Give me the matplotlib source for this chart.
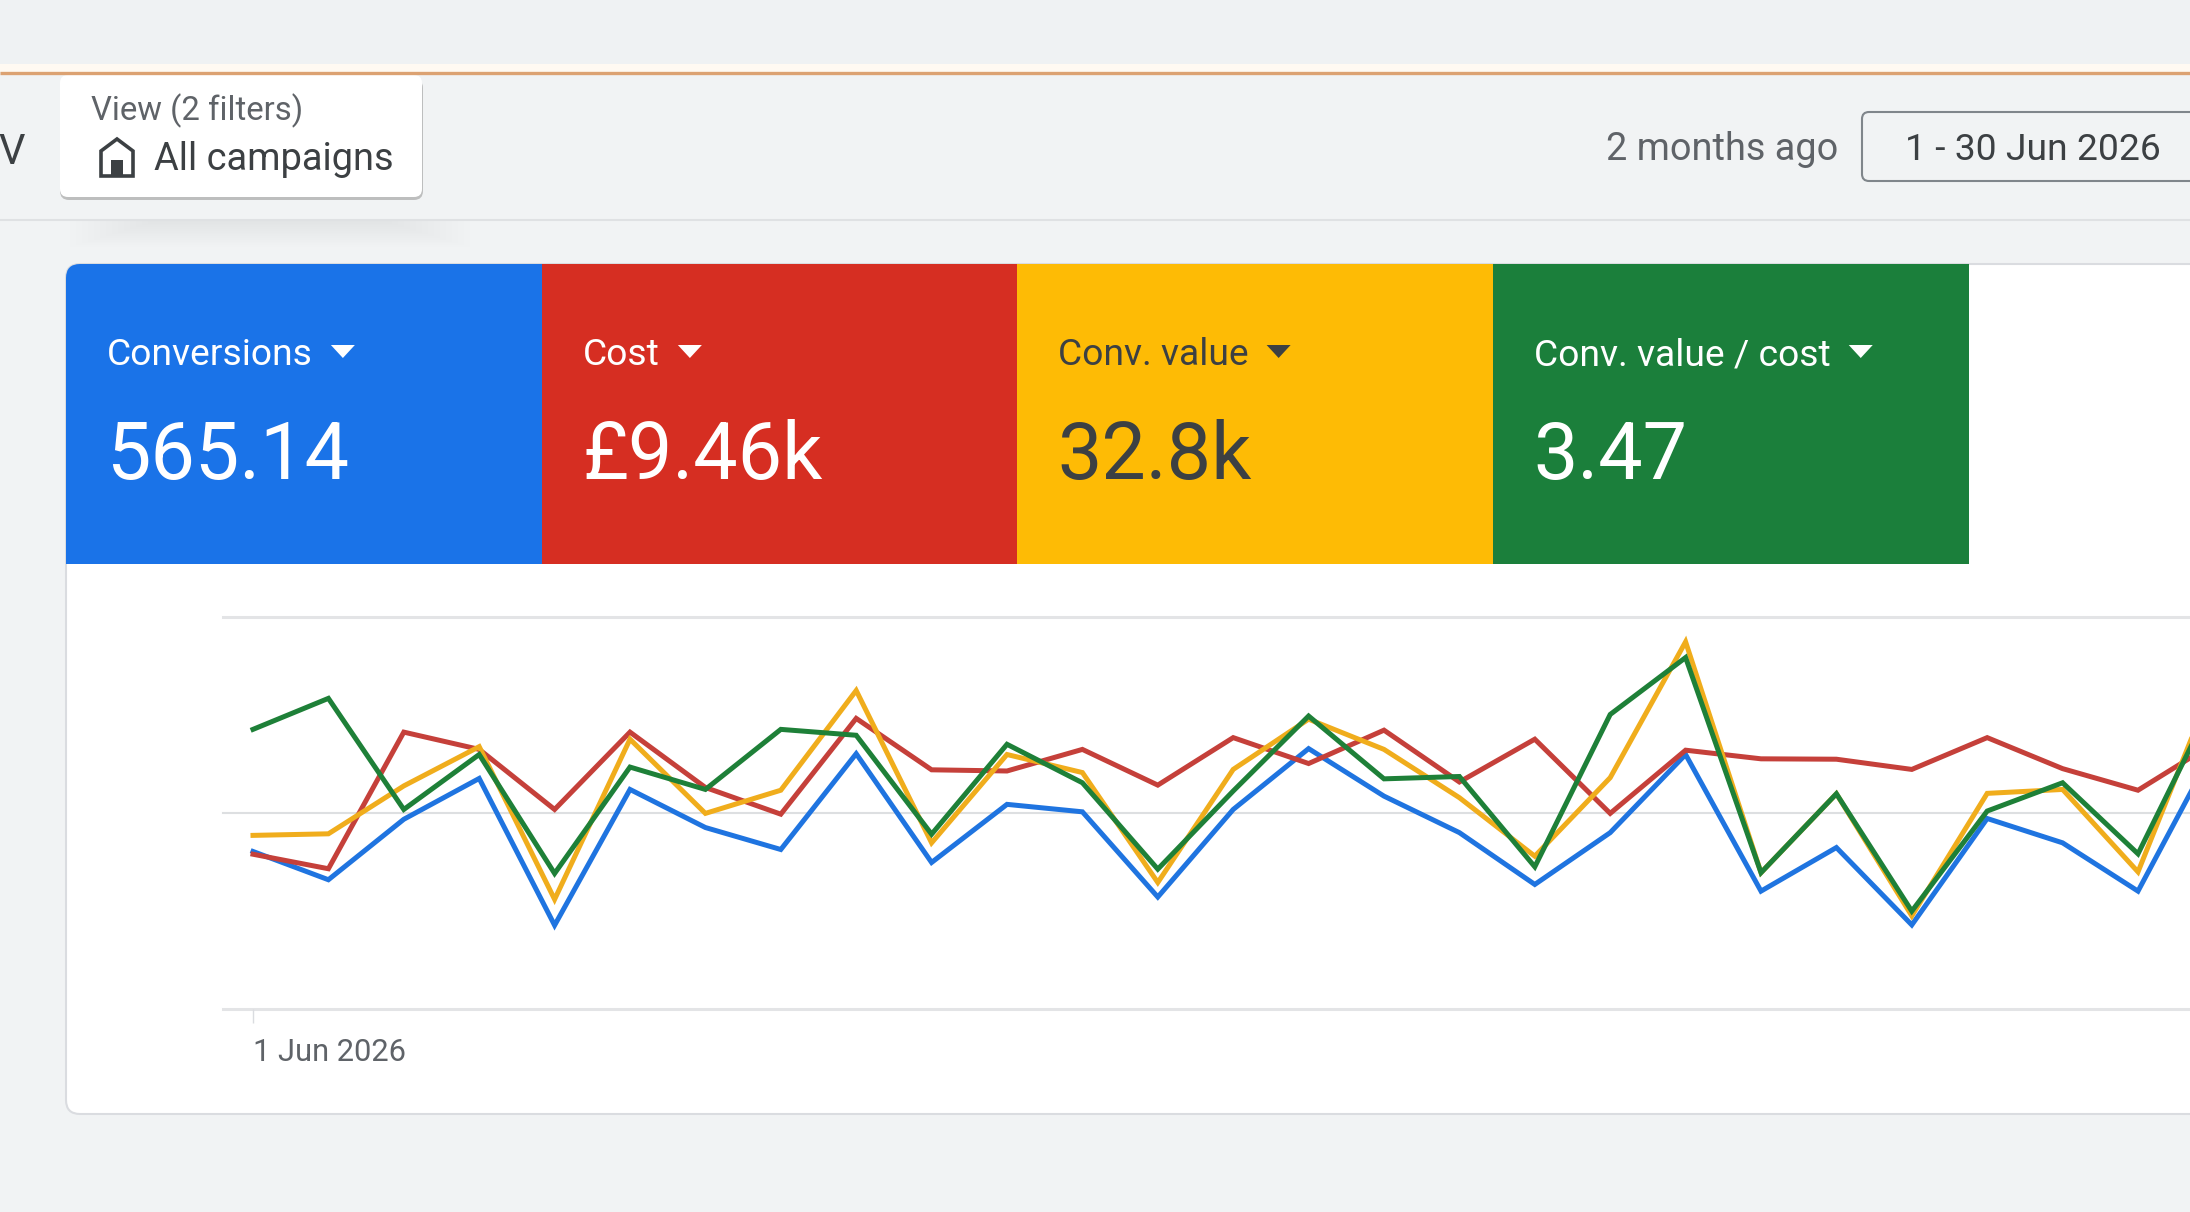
import matplotlib
matplotlib.use("Agg")
import matplotlib.pyplot as plt
from matplotlib.patches import FancyBboxPatch, Rectangle, Polygon

plt.rcParams['font.family'] = ['Roboto', 'DejaVu Sans']

W, H = 2190, 1212

days = list(range(27))
conversions = [40.2, 33.0, 48.4, 58.8, 21.4, 56.0, 46.3, 40.7, 65.1, 37.4, 52.2, 50.3, 28.6, 50.9,
               66.4, 54.3, 45.0, 31.8, 45.0, 64.9, 30.1, 41.2, 21.5, 48.6, 42.4, 30.1, 66.1]
cost = [39.5, 35.8, 70.6, 66.2, 50.9, 70.6, 56.5, 49.7, 74.1, 61.0, 60.7, 66.2, 57.1, 69.2,
        62.6, 71.1, 57.9, 68.8, 49.9, 66.0, 63.8, 63.7, 61.1, 69.2, 61.3, 55.8, 67.7]
conv_value = [44.3, 44.7, 56.9, 66.9, 28.0, 68.8, 49.9, 55.8, 81.2, 42.4, 64.9, 60.3, 32.3, 61.1,
              73.9, 66.2, 53.9, 39.0, 59.0, 93.6, 34.8, 54.9, 23.8, 55.0, 56.0, 35.0, 82.9]
value_per_cost = [71.3, 79.2, 50.9, 64.9, 34.6, 61.7, 56.0, 71.3, 69.8, 44.6, 67.5, 57.7, 35.7, 55.6,
                  74.7, 58.7, 59.3, 36.3, 75.1, 89.6, 34.8, 54.9, 25.0, 50.5, 57.7, 39.6, 78.5]

tile_labels = ["Conversions", "Cost", "Conv. value", "Conv. value / cost"]
tile_values = ["565.14", "£9.46k", "32.8k", "3.47"]
tile_colors = ["#1a73e8", "#d62e22", "#febb05", "#1b7f3b"]
tile_text = ["white", "white", "#3c4043", "white"]
line_colors = ["#1f74e0", "#c5403a", "#f0ad1c", "#1e8038"]
line_series = [conversions, cost, conv_value, value_per_cost]

BG = "#f1f3f4"
DARK = "#3c4043"
GREY = "#5f6368"


def rounded(ax, x0, y0, x1, y1, r, **kw):
    box = FancyBboxPatch((x0 + r, y0 + r), x1 - x0 - 2 * r, y1 - y0 - 2 * r,
                         boxstyle=f"round,pad={r},rounding_size={r}", **kw)
    ax.add_patch(box)
    return box


def draw_page(ax):
    ax.add_patch(Rectangle((0, 0), W, 64, fc="#eff2f3", ec="none"))
    ax.add_patch(Rectangle((0, 64), W, 8, fc="#fffaf2", ec="none"))
    ax.plot([0, W], [72.5, 72.5], color="#dca272", lw=2.4, solid_capstyle="butt")
    ax.plot([0, W], [220, 220], color="#dfe1e3", lw=1.5)

    # soft shadow under the view popup, it only shows below the toolbar line
    for i in range(14):
        ax.add_patch(Rectangle((70 + i * 6, 221), 400 - i * 12, 26 - i * 1.8, fc="black", ec="none", alpha=0.004))
    rounded(ax, 60, 79, 423, 200, 9, fc="#a8a8a8", ec="none", alpha=0.7)
    rounded(ax, 60, 75, 422, 197, 8, fc="white", ec="none")

    ax.text(91, 120, "View (2 filters)", fontsize=23.7, color=GREY, va="baseline")
    ax.text(154, 170, "All campaigns", fontsize=27.4, color=DARK, va="baseline")
    ax.text(-2, 164, "V", fontsize=30, color=DARK, va="baseline")

    # house icon
    ax.add_patch(Polygon([(101, 176), (101, 151), (117, 139), (133, 151), (133, 176)], closed=True,
                         fc="white", ec=DARK, lw=2.6))
    ax.add_patch(Rectangle((111, 160), 12, 15, fc=DARK, ec="none"))

    ax.text(1838, 159.5, "2 months ago", fontsize=27.3, color=GREY, ha="right", va="baseline")
    rounded(ax, 1862, 112, 2240, 181, 7, fc=BG, ec="#80868b", lw=1.5)
    ax.text(1905, 159.5, "1 - 30 Jun 2026", fontsize=26.8, color=DARK, va="baseline")

    # card with the coloured tiles
    rounded(ax, 66, 264, 2260, 1114, 14, fc="white", ec="#dadce0", lw=1.5)
    edges = [66, 542, 1017, 1493, 1969]
    for i, label in enumerate(tile_labels):
        x0, x1 = edges[i], edges[i + 1]
        if i == 0:
            rounded(ax, x0, 264, x0 + 40, 300, 14, fc=tile_colors[i], ec="none")
            ax.add_patch(Rectangle((x0 + 14, 264), x1 - x0 - 14, 300, fc=tile_colors[i], ec="none"))
            ax.add_patch(Rectangle((x0, 278), 20, 286, fc=tile_colors[i], ec="none"))
        else:
            ax.add_patch(Rectangle((x0, 264), x1 - x0, 300, fc=tile_colors[i], ec="none"))
        t = ax.text(x0 + 41, 365, label, fontsize=26.8, color=tile_text[i], va="baseline")
        bb = t.get_window_extent(ax.figure.canvas.get_renderer())
        cx = bb.x1 + 30
        ax.add_patch(Polygon([(cx - 12, 345), (cx + 12, 345), (cx, 358)], closed=True,
                             fc=tile_text[i], ec="none"))
        ax.text(x0 + 40, 479, tile_values[i], fontsize=57, color=tile_text[i], va="baseline")


def draw_chart(ax):
    # index 0 sits at x=253 px, one day is 75.4 px wide
    ax.set_xlim((223 - 253) / 75.4, (W - 253) / 75.4)
    ax.set_ylim(0, 100)
    for grid_y, col, lw in [(0, "#e3e4e6", 2.2), (50, "#dddfe1", 1.5), (100, "#e3e4e6", 2.2)]:
        ax.axhline(grid_y, color=col, lw=lw, zorder=1, clip_on=False)
    for series, col in zip(line_series, line_colors):
        ax.plot(days, series, color=col, lw=3.6, solid_joinstyle="miter", zorder=3)
    for side in ax.spines.values():
        side.set_visible(False)
    ax.set_yticks([])
    ax.set_xticks([0])
    ax.set_xticklabels(["1 Jun 2026"], fontsize=22.2, color=GREY, ha="left")
    ax.tick_params(axis="x", length=10, width=1, color="#dadce0", pad=11)
    ax.patch.set_alpha(0)


def main():
    fig = plt.figure(figsize=(W / 100, H / 100), dpi=100, facecolor=BG)
    page = fig.add_axes([0, 0, 1, 1])
    page.set_xlim(0, W)
    page.set_ylim(H, 0)
    page.axis("off")
    fig.canvas.draw()
    draw_page(page)
    chart = fig.add_axes([223 / W, 1 - 1009.3 / H, (W - 223) / W, 392.6 / H])
    draw_chart(chart)
    fig.savefig("out.png", dpi=100, facecolor=BG)


if __name__ == '__main__':
    main()
